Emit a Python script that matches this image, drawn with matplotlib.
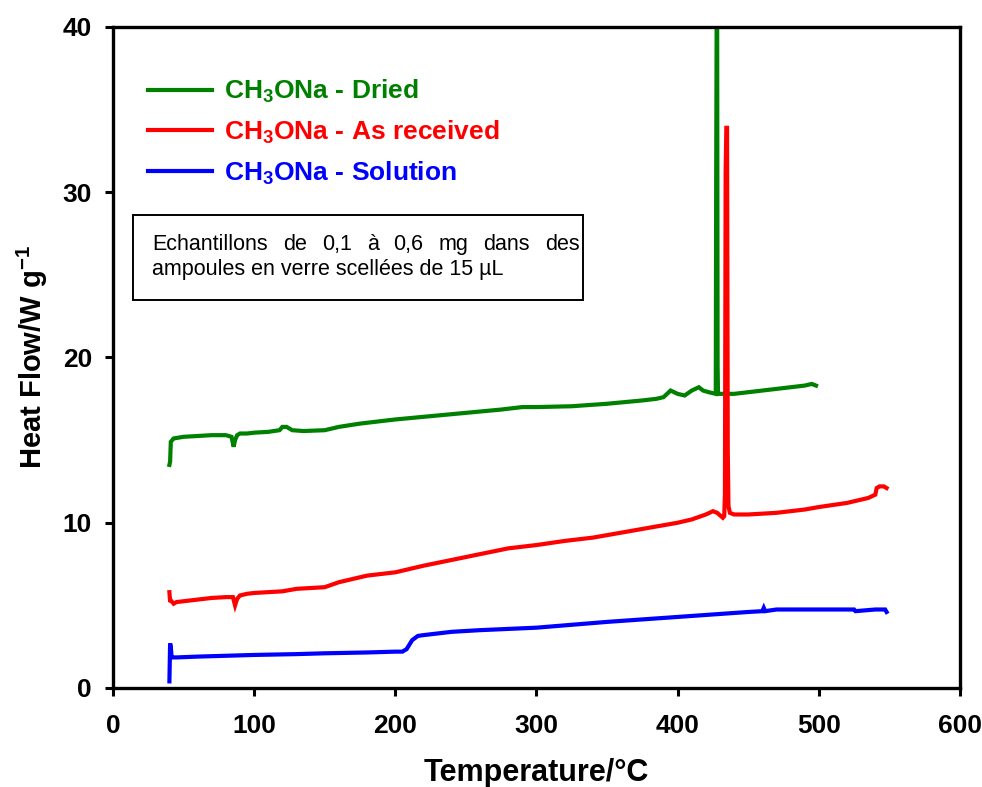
import matplotlib
matplotlib.use("Agg")
import matplotlib.pyplot as plt
from matplotlib.patches import Rectangle

plt.rcParams["font.family"] = ["Liberation Sans", "DejaVu Sans"]
plt.rcParams["mathtext.fontset"] = "custom"
plt.rcParams["mathtext.rm"] = "Liberation Sans"
plt.rcParams["mathtext.bf"] = "Liberation Sans:bold"

# DSC traces: temperature (°C) and heat flow (W/g)
dried_t = [40, 40.5, 41, 43, 50, 60, 70, 80, 84, 85.5, 86.5, 88, 90, 95, 100, 110, 118,
           120, 123, 127, 135, 150, 160, 175, 200, 225, 250, 275, 290, 300, 325, 350,
           375, 385, 390, 395, 400, 405, 410, 415, 418, 422, 427, 427.3, 427.6, 428.0,
           428.3, 428.6, 430, 440, 450, 460, 470, 480, 490, 495, 498]
dried_hf = [13.5, 13.7, 14.9, 15.1, 15.2, 15.25, 15.3, 15.3, 15.2, 14.6, 15.0, 15.3, 15.4,
            15.4, 15.45, 15.5, 15.6, 15.8, 15.8, 15.6, 15.55, 15.6, 15.8, 16.0, 16.25,
            16.45, 16.65, 16.85, 17.0, 17.0, 17.05, 17.2, 17.4, 17.5, 17.6, 18.0, 17.8,
            17.7, 18.0, 18.2, 18.0, 17.9, 17.8, 31.0, 39.8, 39.8, 19.5, 17.8, 17.8, 17.8,
            17.9, 18.0, 18.1, 18.2, 18.3, 18.4, 18.3]

received_t = [40, 40.5, 41, 43, 45, 50, 60, 70, 80, 85, 86.5, 88, 90, 95, 100, 110, 120,
              130, 140, 150, 160, 170, 180, 200, 220, 240, 260, 280, 300, 320, 340, 360,
              380, 400, 410, 420, 425, 428, 432, 433, 433.5, 434, 434.5, 435, 435.5, 436,
              437, 440, 450, 470, 490, 500, 520, 530, 535, 540, 541, 543, 546, 548]
received_hf = [5.8, 5.2, 5.3, 5.1, 5.2, 5.25, 5.35, 5.45, 5.5, 5.5, 5.0, 5.4, 5.6, 5.7,
               5.75, 5.8, 5.85, 6.0, 6.05, 6.1, 6.4, 6.6, 6.8, 7.0, 7.4, 7.75, 8.1, 8.45,
               8.65, 8.9, 9.1, 9.4, 9.7, 10.0, 10.2, 10.5, 10.7, 10.6, 10.3, 10.4, 11.7,
               31.3, 33.9, 33.9, 14.4, 11.0, 10.6, 10.5, 10.5, 10.6, 10.8, 10.95, 11.2,
               11.4, 11.5, 11.7, 12.1, 12.2, 12.2, 12.1]

solution_t = [40, 40.5, 41, 41.5, 42, 45, 60, 80, 100, 130, 150, 180, 200, 205, 208, 212,
              216, 220, 240, 260, 300, 350, 400, 450, 460, 461, 462, 470, 500, 520, 525,
              526, 540, 547, 548]
solution_hf = [0.4, 2.7, 2.5, 1.9, 1.85, 1.85, 1.9, 1.95, 2.0, 2.05, 2.1, 2.15, 2.2, 2.2,
               2.35, 2.9, 3.15, 3.2, 3.4, 3.5, 3.65, 4.0, 4.3, 4.6, 4.65, 4.85, 4.65,
               4.75, 4.75, 4.75, 4.75, 4.65, 4.75, 4.75, 4.6]

series_labels = [r"CH$_\mathbf{3}$ONa - Dried",
                 r"CH$_\mathbf{3}$ONa - As received",
                 r"CH$_\mathbf{3}$ONa - Solution"]
series_colors = ["#008000", "#ff0000", "#0000ff"]

x_ticks = [0, 100, 200, 300, 400, 500, 600]
y_ticks = [0, 10, 20, 30, 40]

note_line1 = ["Echantillons", "de", "0,1", "à", "0,6", "mg", "dans", "des"]
note_line2 = "ampoules en verre scellées de 15 µL"

fig = plt.figure(figsize=(9.82, 7.87), dpi=100)
ax = fig.add_axes([0.115, 0.1258, 0.8626, 0.8399])

for t, hf, lab, col in zip([dried_t, received_t, solution_t],
                           [dried_hf, received_hf, solution_hf],
                           series_labels, series_colors):
    ax.plot(t, hf, color=col, lw=3.0, label=lab, solid_joinstyle="miter")

ax.set_xlim(0, 600)
ax.set_ylim(0, 40)
ax.set_xticks(x_ticks)
ax.set_yticks(y_ticks)
ax.tick_params(axis="both", direction="out", length=6, width=2.2, labelsize=19,
               top=False, right=False)
ax.tick_params(axis="x", pad=13)
ax.tick_params(axis="y", pad=9)
for lbl in ax.get_xticklabels() + ax.get_yticklabels():
    lbl.set_fontweight("bold")
for sp in ax.spines.values():
    sp.set_linewidth(2.4)

ax.set_xlabel("Temperature/°C", fontsize=22, fontweight="bold", labelpad=14)
ax.set_ylabel(r"Heat Flow/W g$^\mathbf{-1}$", fontsize=21, fontweight="bold", labelpad=9)

leg = ax.legend(loc="upper left", bbox_to_anchor=(0.041, 0.923), frameon=False,
                prop={"size": 19, "weight": "bold"}, handlelength=2.45,
                handletextpad=0.45, labelspacing=0.5, borderpad=0, borderaxespad=0)
for txt, col in zip(leg.get_texts(), series_colors):
    txt.set_color(col)

# annotation box with a justified first line
ax.add_patch(Rectangle((14, 23.5), 319, 5.1, facecolor="white", edgecolor="black",
                       lw=1.4, zorder=3))
x_left, x_right, y1, y2 = 28.0, 330.5, 26.5, 25.0
words = [ax.text(x_left, y1, w, fontsize=15.5, zorder=4, va="baseline")
         for w in note_line1]
ax.text(x_left, y2, note_line2, fontsize=15.5, zorder=4, va="baseline")

renderer = fig.canvas.get_renderer()
widths = [w.get_window_extent(renderer).width for w in words]
px_left = ax.transData.transform((x_left, 0))[0]
px_right = ax.transData.transform((x_right, 0))[0]
gap = (px_right - px_left - sum(widths)) / (len(words) - 1)
pos = px_left
inv = ax.transData.inverted()
for w, wd in zip(words, widths):
    w.set_x(inv.transform((pos, 0))[0])
    pos += wd + gap

fig.savefig("out.png", dpi=100)
